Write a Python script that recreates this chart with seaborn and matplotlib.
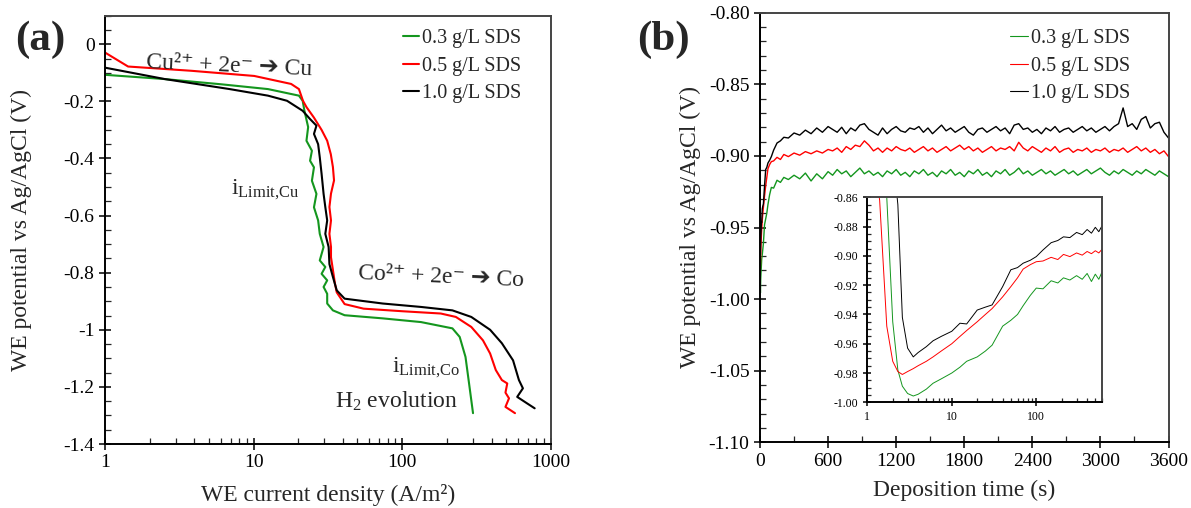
import numpy as np
import pandas as pd
import matplotlib
matplotlib.use("Agg")
import matplotlib.pyplot as plt
from matplotlib.ticker import MultipleLocator, FuncFormatter, FormatStrFormatter, LogLocator, NullFormatter
import seaborn as sns

# ---------------- data: panel (a) polarization curves ----------------
cd_03 = [1, 2.53, 6.0, 12.5, 20.2, 21.4, 22.0, 23.3, 22.7, 24.7, 24.0, 25.5, 24.7, 26.5, 25.5, 27.2,
         27.9, 29.6, 27.9, 30.4, 28.7, 31.3, 29.6, 31.3, 31.3, 34.2, 41, 74, 134, 218, 244, 267, 282, 300]
E_03 = [-0.107, -0.122, -0.140, -0.157, -0.180, -0.198, -0.233, -0.290, -0.338, -0.373, -0.408, -0.431,
        -0.478, -0.524, -0.571, -0.617, -0.664, -0.710, -0.757, -0.780, -0.804, -0.827, -0.850, -0.874,
        -0.908, -0.932, -0.949, -0.960, -0.973, -0.995, -1.025, -1.095, -1.187, -1.292]

cd_05 = [1, 1.43, 3.83, 10.1, 17.9, 20.2, 21.5, 22.7, 25.5, 28.7, 31.3, 33.1, 34.2, 34.8, 33.2, 32.4,
         33.2, 32.4, 33.2, 33.2, 34.2, 35.3, 36.3, 41, 55, 100, 182, 230, 292, 350, 391, 427, 469, 510,
         496, 524, 496, 575]
E_05 = [-0.029, -0.078, -0.093, -0.111, -0.139, -0.157, -0.198, -0.220, -0.257, -0.300, -0.338, -0.385,
        -0.430, -0.477, -0.523, -0.570, -0.617, -0.664, -0.710, -0.746, -0.790, -0.838, -0.869, -0.910,
        -0.926, -0.935, -0.943, -0.955, -0.990, -1.037, -1.083, -1.141, -1.176, -1.188, -1.220, -1.240,
        -1.270, -1.292]

cd_10 = [1, 2.53, 6.9, 12.5, 16.8, 21.4, 24.0, 26.5, 25.5, 27.2, 27.9, 28.7, 29.6, 30.4, 31.3, 30.4,
         32.0, 32.4, 34.2, 36.3, 41, 74, 134, 218, 292, 391, 469, 558, 611, 650, 595, 690, 780]
E_10 = [-0.082, -0.122, -0.157, -0.180, -0.198, -0.233, -0.262, -0.285, -0.314, -0.350, -0.396, -0.454,
        -0.524, -0.570, -0.617, -0.664, -0.710, -0.770, -0.815, -0.862, -0.891, -0.908, -0.920, -0.932,
        -0.955, -1.000, -1.047, -1.107, -1.176, -1.205, -1.235, -1.257, -1.275]

# ---------------- data: panel (b) chronopotentiometry ----------------
t_early = [1, 1.4, 1.7, 2, 2.3, 2.6, 3, 3.5, 4, 5, 6, 7.5, 10, 12.5, 15, 20, 25, 30, 40, 50,
           60, 70, 85, 100, 120, 150, 180, 210, 250, 300, 350, 400, 450, 500, 550, 600]
t_late = list(range(640, 3601, 40))
time_s = t_early + t_late

v_03 = [-0.78, -0.81, -0.86, -0.945, -0.978, -0.989, -0.994, -0.9957, -0.9945, -0.991,
        -0.987, -0.984, -0.980, -0.976, -0.972, -0.969, -0.965, -0.961, -0.948, -0.944,
        -0.940, -0.934, -0.927, -0.922, -0.9225, -0.917, -0.9185, -0.915, -0.9165, -0.9135,
        -0.916, -0.912, -0.9175, -0.9125, -0.916, -0.911,
        -0.9135, -0.9095, -0.9125, -0.9105, -0.9145, -0.9115, -0.9085, -0.9125, -0.9105, -0.9135,
        -0.9115, -0.9145, -0.9105, -0.9125, -0.9095, -0.9135, -0.9115, -0.9145, -0.9105, -0.9125,
        -0.9095, -0.9135, -0.9115, -0.9145, -0.9105, -0.9125, -0.9095, -0.9135, -0.9115, -0.9145,
        -0.9105, -0.9125, -0.9095, -0.9135, -0.9115, -0.9145, -0.9105, -0.9125, -0.9095, -0.9135,
        -0.9115, -0.9085, -0.9125, -0.9105, -0.9135, -0.9115, -0.9095, -0.9125, -0.9105, -0.9135,
        -0.9115, -0.9095, -0.9125, -0.9105, -0.9135, -0.9115, -0.9095, -0.9125, -0.9105, -0.9085,
        -0.9115, -0.9135, -0.9105, -0.9125, -0.9095, -0.9115, -0.9135, -0.9105, -0.9125, -0.9095,
        -0.9115, -0.9135, -0.9105, -0.9125, -0.9145]

v_05 = [-0.80, -0.862, -0.948, -0.972, -0.979, -0.981, -0.979, -0.977, -0.975, -0.972,
        -0.969, -0.965, -0.960, -0.955, -0.951, -0.945, -0.940, -0.936, -0.928, -0.921,
        -0.915, -0.909, -0.906, -0.904, -0.9035, -0.901, -0.9025, -0.899, -0.9005, -0.898,
        -0.8995, -0.897, -0.8985, -0.8965, -0.898, -0.8955,
        -0.8965, -0.8945, -0.8975, -0.8935, -0.8955, -0.8925, -0.8935, -0.8895, -0.8925, -0.8965,
        -0.8945, -0.8975, -0.8945, -0.8965, -0.8935, -0.8955, -0.8965, -0.8945, -0.8975, -0.8955,
        -0.8935, -0.8965, -0.8945, -0.8975, -0.8955, -0.8935, -0.8965, -0.8945, -0.8925, -0.8955,
        -0.8935, -0.8965, -0.8945, -0.8975, -0.8955, -0.8935, -0.8965, -0.8945, -0.8955, -0.8935,
        -0.8965, -0.8905, -0.8945, -0.8965, -0.8935, -0.8955, -0.8975, -0.8945, -0.8965, -0.8935,
        -0.8975, -0.8955, -0.8945, -0.8975, -0.8955, -0.8965, -0.8945, -0.8975, -0.8955, -0.8965,
        -0.8945, -0.8975, -0.8955, -0.8965, -0.8945, -0.8975, -0.8955, -0.8935, -0.8965, -0.8945,
        -0.8975, -0.8955, -0.8985, -0.8965, -0.9005]

v_10 = [-0.76, -0.78, -0.80, -0.83, -0.865, -0.942, -0.963, -0.969, -0.966, -0.962,
        -0.958, -0.955, -0.9515, -0.946, -0.9465, -0.937, -0.935, -0.9335, -0.921, -0.9095,
        -0.908, -0.905, -0.903, -0.9005, -0.896, -0.891, -0.8895, -0.887, -0.8875, -0.884,
        -0.8855, -0.882, -0.8845, -0.8805, -0.8835, -0.8795,
        -0.8815, -0.8835, -0.8800, -0.8845, -0.8805, -0.8825, -0.8785, -0.8775, -0.8815, -0.8835,
        -0.8855, -0.8805, -0.8845, -0.8815, -0.8795, -0.8825, -0.8835, -0.8805, -0.8815, -0.8795,
        -0.8835, -0.8805, -0.8845, -0.8815, -0.8785, -0.8825, -0.8805, -0.8835, -0.8815, -0.8795,
        -0.8835, -0.8855, -0.8815, -0.8805, -0.8835, -0.8815, -0.8795, -0.8825, -0.8805, -0.8845,
        -0.8785, -0.8775, -0.8815, -0.8805, -0.8835, -0.8815, -0.8845, -0.8805, -0.8825, -0.8795,
        -0.8835, -0.8815, -0.8805, -0.8835, -0.8815, -0.8795, -0.8825, -0.8805, -0.8835, -0.8815,
        -0.8795, -0.8825, -0.8795, -0.8775, -0.8665, -0.8795, -0.8775, -0.8815, -0.8745, -0.8725,
        -0.8805, -0.8775, -0.8765, -0.8835, -0.8875]

labels = ["0.3 g/L SDS", "0.5 g/L SDS", "1.0 g/L SDS"]
colors = ["#14961e", "#ff0000", "#000000"]

# ---------------- style ----------------
sns.set_theme(style="ticks")
plt.rcParams["font.family"] = ["Liberation Serif", "DejaVu Sans"]
plt.rcParams["mathtext.fontset"] = "custom"
plt.rcParams["mathtext.rm"] = "Liberation Serif"
plt.rcParams["mathtext.it"] = "Liberation Serif:italic"
plt.rcParams["axes.unicode_minus"] = False
plt.rcParams["axes.linewidth"] = 1.4

W, H = 1191, 508
fig = plt.figure(figsize=(W / 100, H / 100), dpi=100)

def fig_rect(l, t, r, b):
    return [l / W, 1 - b / H, (r - l) / W, (b - t) / H]

axa = fig.add_axes(fig_rect(105, 15.7, 550.7, 444))
axb = fig.add_axes(fig_rect(760, 12.7, 1168.5, 442.3))
axi = fig.add_axes(fig_rect(867.3, 197.3, 1102, 402.3))

def style_axes(ax, fs, major_len=8, minor_len=4):
    for side in ["left", "bottom"]:
        ax.spines[side].set_color("black")
    for side in ["top", "right"]:
        ax.spines[side].set_color("#444444")
    ax.tick_params(which="major", direction="inout", length=major_len, width=1.1,
                   labelsize=fs, colors="black", top=False, right=False)
    ax.tick_params(which="minor", direction="in", length=minor_len, width=0.9,
                   top=False, right=False)

# ---------------- panel (a) ----------------
axa.set_xscale("log")
for cd, E, lab, c in zip([cd_03, cd_05, cd_10], [E_03, E_05, E_10], labels, colors):
    sns.lineplot(x=cd, y=E, ax=axa, sort=False, estimator=None, color=c, linewidth=1.5, label=lab)
axa.set_xlim(1, 1000)
axa.set_ylim(-1.4, 0.1)
axa.yaxis.set_major_locator(MultipleLocator(0.2))
axa.yaxis.set_minor_locator(MultipleLocator(0.05))
axa.xaxis.set_major_locator(LogLocator(base=10))
axa.xaxis.set_minor_locator(LogLocator(base=10, subs=np.arange(2, 10)))
axa.xaxis.set_minor_formatter(NullFormatter())

def fmt_a(v, pos):
    if v > 0.01:
        return ""
    s = f"{v:g}"
    return "0" if s in ("-0", "0") else s
axa.yaxis.set_major_formatter(FuncFormatter(fmt_a))
axa.xaxis.set_major_formatter(FuncFormatter(lambda v, p: f"{v:g}"))
style_axes(axa, 14)
axa.set_xlabel("WE current density (A/m²)", fontsize=17)
axa.set_ylabel("WE potential vs Ag/AgCl (V)", fontsize=17)
axa.xaxis.set_label_coords(0.5, -0.093)
axa.yaxis.set_label_coords(-0.163, 0.5)
axa.legend(loc="upper left", bbox_to_anchor=(403 / W, 1 - 29 / H), bbox_transform=fig.transFigure,
           frameon=False, fontsize=14.5, handlelength=0.8, handletextpad=0.15, borderpad=0,
           borderaxespad=0, labelspacing=0.42)

txt_kw = dict(fontsize=17, ha="left", va="center")
axa.text(1.89, -0.075, "Cu²⁺ + 2e⁻ ➔ Cu", rotation=-2.5, **txt_kw)
axa.text(7.05, -0.51, "i$_{\\mathrm{Limit{,}Cu}}$", **txt_kw)
axa.text(50.5, -0.815, "Co²⁺ + 2e⁻ ➔ Co", rotation=-2.5, **txt_kw)
axa.text(85, -1.135, "i$_{\\mathrm{Limit{,}Co}}$", **txt_kw)
axa.text(35.3, -1.25, "H$_2$ evolution", **txt_kw)

fig.text(40 / W, 1 - 40 / H, "(a)", fontsize=31, fontweight="bold", ha="center", va="center")
fig.text(663 / W, 1 - 40 / H, "(b)", fontsize=31, fontweight="bold", ha="center", va="center")

# ---------------- panel (b) ----------------
for v, lab, c in zip([v_03, v_05, v_10], labels, colors):
    sns.lineplot(x=time_s, y=v, ax=axb, sort=False, estimator=None, color=c, linewidth=1.0, label=lab)
axb.set_xlim(0, 3600)
axb.set_ylim(-1.10, -0.80)
axb.xaxis.set_major_locator(MultipleLocator(600))
axb.xaxis.set_minor_locator(MultipleLocator(300))
axb.yaxis.set_major_locator(MultipleLocator(0.05))
axb.yaxis.set_minor_locator(MultipleLocator(0.01))
axb.yaxis.set_major_formatter(FormatStrFormatter("%.2f"))
style_axes(axb, 14)
axb.set_xlabel("Deposition time (s)", fontsize=17)
axb.set_ylabel("WE potential vs Ag/AgCl (V)", fontsize=17)
axb.xaxis.set_label_coords(0.5, -0.088)
axb.yaxis.set_label_coords(-0.145, 0.5)
leg_b = axb.legend(loc="upper left", bbox_to_anchor=(1010 / W, 1 - 29 / H), bbox_transform=fig.transFigure,
                   frameon=False, fontsize=14.5, handlelength=0.9, handletextpad=0.15, borderpad=0,
                   borderaxespad=0, labelspacing=0.42)
for ln in leg_b.get_lines():
    ln.set_linewidth(0.8)

# ---------------- inset ----------------
axi.set_facecolor("white")
axi.set_xscale("log")
for v, c in zip([v_03, v_05, v_10], colors):
    sns.lineplot(x=time_s, y=v, ax=axi, sort=False, estimator=None, color=c, linewidth=0.7, legend=False)
axi.set_xlim(1, 600)
axi.set_ylim(-1.00, -0.86)
axi.yaxis.set_major_locator(MultipleLocator(0.02))
axi.yaxis.set_minor_locator(MultipleLocator(0.005))
axi.yaxis.set_major_formatter(FormatStrFormatter("%.2f"))
axi.xaxis.set_major_locator(LogLocator(base=10))
axi.xaxis.set_minor_locator(LogLocator(base=10, subs=np.arange(2, 10)))
axi.xaxis.set_minor_formatter(NullFormatter())
axi.xaxis.set_major_formatter(FuncFormatter(lambda v, p: f"{v:g}"))
style_axes(axi, 8.5, major_len=6, minor_len=3)
axi.set_xlabel("")
axi.set_ylabel("")

fig.savefig("out.png", dpi=100)
